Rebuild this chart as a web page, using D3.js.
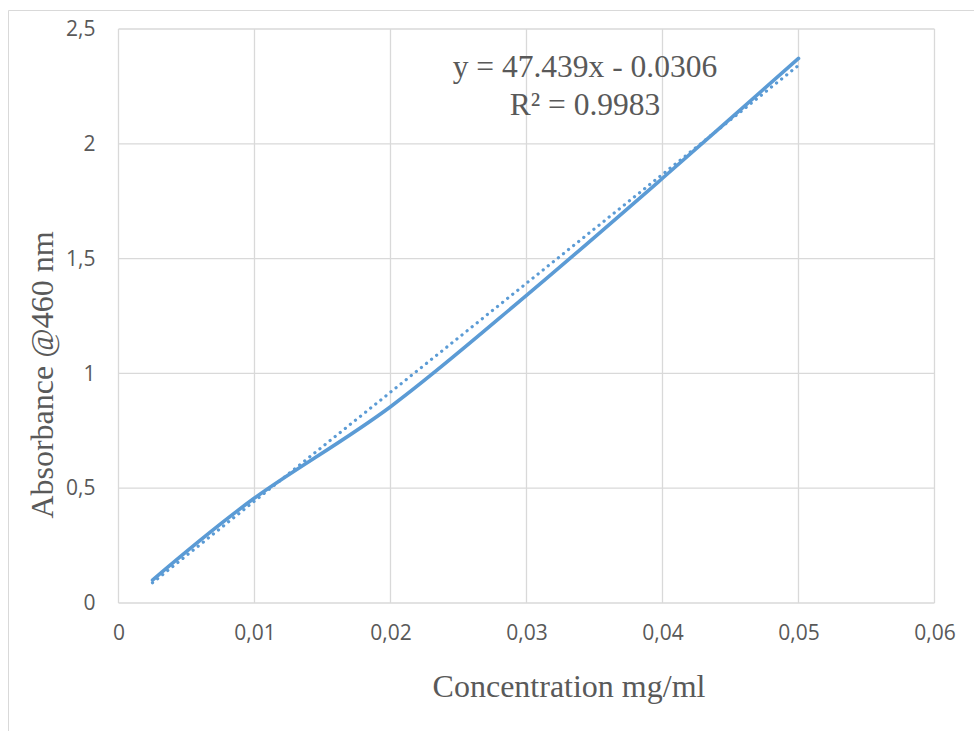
<!DOCTYPE html>
<html>
<head>
<meta charset="utf-8">
<script src="https://cdn.jsdelivr.net/npm/d3@7"></script>
<style>
  body { margin: 0; background: #fff; }
  .tick text { font-family: "Open Sans", sans-serif; font-size: 21px; fill: #595959; }
  .title { font-family: "Liberation Serif", "Times New Roman", serif; fill: #595959; }
</style>
</head>
<body>
<div id="chart"></div>
<script>
// measured points (concentration mg/ml, absorbance)
var concentration = [0.0025, 0.01, 0.02, 0.03, 0.04, 0.05];
var absorbance = [0.10, 0.457, 0.855, 1.34, 1.85, 2.372];

// linear trendline as printed on the chart
var slope = 47.439,
    intercept = -0.0306;
var equationLines = ["y = 47.439x - 0.0306", "R² = 0.9983"];

var xTicks = [0, 0.01, 0.02, 0.03, 0.04, 0.05, 0.06];
var yTicks = [0, 0.5, 1, 1.5, 2, 2.5];

var width = 974,
    height = 731;

var margin = {
    top: 29,
    right: 40,
    bottom: 128,
    left: 118.5
};

var svg = d3.select("#chart")
    .append("svg")
    .attr("width", width)
    .attr("height", height);

// outer chart border (only top and left visible in the frame)
svg.append("path")
    .attr("d", "M8.5," + height + "V10.5H" + width)
    .attr("fill", "none")
    .attr("stroke", "#d9d9d9")
    .attr("stroke-width", 1);

var x = d3.scaleLinear().domain([0, 0.06]).range([margin.left, 934.5]);
var y = d3.scaleLinear().domain([0, 2.5]).range([603, margin.top]);

// gridlines
svg.append("g")
    .selectAll("line.vgrid")
    .data(xTicks)
    .enter()
    .append("line")
    .attr("x1", function (d) { return x(d); })
    .attr("x2", function (d) { return x(d); })
    .attr("y1", y(0))
    .attr("y2", y(2.5))
    .attr("stroke", "#d9d9d9")
    .attr("stroke-width", 1.3);

svg.append("g")
    .selectAll("line.hgrid")
    .data(yTicks)
    .enter()
    .append("line")
    .attr("x1", x(0))
    .attr("x2", x(0.06))
    .attr("y1", function (d) { return y(d); })
    .attr("y2", function (d) { return y(d); })
    .attr("stroke", "#d9d9d9")
    .attr("stroke-width", 1.3);

var fmt = function (d) { return String(d).replace(".", ","); };

// axes: labels only, lines hidden
var xAxis = svg.append("g")
    .attr("transform", "translate(0," + y(0) + ")")
    .call(d3.axisBottom(x).tickValues(xTicks).tickFormat(fmt).tickSize(0).tickPadding(22));
xAxis.select(".domain").remove();

var yAxis = svg.append("g")
    .attr("transform", "translate(" + x(0) + ",0)")
    .call(d3.axisLeft(y).tickValues(yTicks).tickFormat(fmt).tickSize(0).tickPadding(23));
yAxis.select(".domain").remove();

// trendline (dotted)
var trend = d3.extent(concentration).map(function (c) {
    return [c, slope * c + intercept];
});
svg.append("path")
    .datum(trend)
    .attr("d", d3.line()
        .x(function (d) { return x(d[0]); })
        .y(function (d) { return y(d[1]); }))
    .attr("fill", "none")
    .attr("stroke", "#5b9bd5")
    .attr("stroke-width", 3.2)
    .attr("stroke-linecap", "round")
    .attr("stroke-dasharray", "0.1,6.4");

// smoothed data line
var pts = concentration.map(function (c, i) { return [c, absorbance[i]]; });
svg.append("path")
    .datum(pts)
    .attr("d", d3.line()
        .curve(d3.curveCatmullRom.alpha(0))
        .x(function (d) { return x(d[0]); })
        .y(function (d) { return y(d[1]); }))
    .attr("fill", "none")
    .attr("stroke", "#5b9bd5")
    .attr("stroke-width", 3.6)
    .attr("stroke-linecap", "round");

// equation label
svg.append("text")
    .attr("class", "title")
    .attr("text-anchor", "middle")
    .attr("font-size", 31.5)
    .selectAll("tspan")
    .data(equationLines)
    .enter()
    .append("tspan")
    .attr("x", 585)
    .attr("y", function (d, i) { return 77 + i * 38; })
    .text(function (d) { return d; });

// axis titles
svg.append("text")
    .attr("class", "title")
    .attr("text-anchor", "middle")
    .attr("font-size", 32)
    .attr("x", 569)
    .attr("y", 697)
    .text("Concentration mg/ml");

svg.append("text")
    .attr("class", "title")
    .attr("text-anchor", "middle")
    .attr("font-size", 32)
    .attr("transform", "translate(53,375) rotate(-90)")
    .text("Absorbance @460 nm");
</script>
</body>
</html>
